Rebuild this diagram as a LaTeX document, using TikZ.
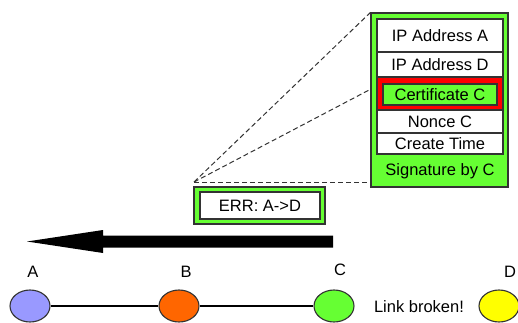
\documentclass[tikz,border=0pt]{standalone}
\usepackage{fontspec}
\setmainfont{Liberation Sans}
\usetikzlibrary{shapes.geometric}
\definecolor{lgreen}{HTML}{66FF33}
\definecolor{lblue}{HTML}{9999FF}
\definecolor{lorange}{HTML}{FF6600}
\definecolor{lyellow}{HTML}{FFFF00}
\definecolor{edge}{HTML}{333333}
\begin{document}
\begin{tikzpicture}[x=1pt,y=-1pt,
  txt/.style={font=\fontsize{16.5}{19}\selectfont, inner sep=0pt},
  field/.style={draw=edge, line width=1.1pt, fill=white, minimum width=126pt, inner sep=0pt, font=\fontsize{16.5}{19}\selectfont},
  gbox/.style={draw=edge, line width=1.1pt, fill=lgreen, inner sep=0pt},
  peer/.style={ellipse, draw=edge, line width=1.1pt, minimum width=40pt, minimum height=32pt, inner sep=0pt},
  zoomline/.style={draw=edge, line width=1pt, dash pattern=on 5pt off 3pt}
]
\useasboundingbox (0,0) rectangle (518,323);
% big message box
\node[gbox, minimum width=137pt, minimum height=174pt] (msg) at (439.5,100) {};
\node[field, minimum height=33pt] (ipa) at (440,35.5) {IP Address A};
\node[field, minimum height=25pt] (ipd) at (440,64.5) {IP Address D};
\node[draw=edge, line width=1.1pt, fill=red, minimum width=126pt, minimum height=33pt, inner sep=0pt] (red) at (440,93.5) {};
\node[gbox, minimum width=114pt, minimum height=21pt, font=\fontsize{16.5}{19}\selectfont] (cert) at (440,94.5) {Certificate C};
\node[field, minimum height=23pt] (nonce) at (440,121.5) {Nonce C};
\node[field, minimum height=21pt] (ctime) at (440,143.5) {Create Time};
\node[txt] (sig) at (440,171) {Signature by C};
% error packet
\node[gbox, minimum width=131pt, minimum height=37pt] (errout) at (259.5,205.5) {};
\node[draw=edge, line width=1.1pt, fill=white, minimum width=120pt, minimum height=27pt, inner sep=0pt, font=\fontsize{16.5}{19}\selectfont] (err) at (260,205.5) {ERR: A->D};
% zoom lines
\coordinate (apex) at (194,182);
\coordinate (mid) at (371,89);
\coordinate (low) at (371,182);
\draw[zoomline] (apex) -- (msg.north west);
\draw[zoomline] (apex) -- (mid);
\draw[zoomline] (apex) -- (low);
% big arrow
\coordinate (tip) at (27,241.5);
\fill[black] (333,235.5) -- (103,235.5) -- (103,230) -- (tip) -- (103,253) -- (103,247.5) -- (333,247.5) -- cycle;
% nodes
\node[peer, fill=lblue] (A) at (30,306) {};
\node[peer, fill=lorange] (B) at (179,306) {};
\node[peer, fill=lgreen] (C) at (334,306) {};
\node[peer, fill=lyellow] (D) at (499,306) {};
\node[txt] (la) at (33,272) {A};
\node[txt] (lb) at (186,272) {B};
\node[txt] (lc) at (340,270) {C};
\node[txt] (ld) at (510,272) {D};
\node[txt] (lb2) at (419,307) {Link broken!};
\draw[line width=1.1pt] (A) -- (B);
\draw[line width=1.1pt] (B) -- (C);
\end{tikzpicture}
\end{document}
